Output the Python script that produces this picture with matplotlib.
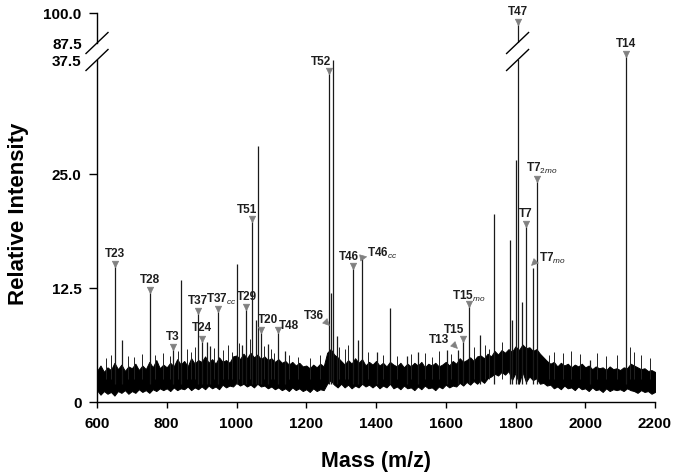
import numpy as np
import matplotlib
matplotlib.use("Agg")
import matplotlib.pyplot as plt
from matplotlib.markers import MarkerStyle
from matplotlib.path import Path
from matplotlib.transforms import ScaledTranslation, Affine2D

plt.rcParams['font.family'] = ['Liberation Sans', 'DejaVu Sans']
plt.rcParams['mathtext.fontset'] = 'custom'
plt.rcParams['mathtext.rm'] = 'Liberation Sans'
plt.rcParams['mathtext.bf'] = 'Liberation Sans:bold'
plt.rcParams['mathtext.it'] = 'Liberation Sans:italic'

# ---------------- data ----------------
# noise band envelope (m/z grid every 10)
noise_mass = list(range(600, 2201, 10))
noise_upper = [3.4, 4.0, 3.3, 3.8, 3.5, 4.3, 3.6, 4.1, 3.4, 3.9,
               3.7, 4.2, 3.5, 4.0, 3.6, 4.4, 3.8, 4.6, 3.7, 4.1,
               3.8, 4.3, 3.9, 4.7, 4.1, 4.5, 3.9, 4.8, 4.2, 4.6,
               4.4, 5.0, 4.3, 4.7, 4.2, 4.9, 4.4, 4.6, 4.3, 5.0,
               5.1, 4.7, 5.3, 4.8, 5.4, 4.9, 5.2, 4.7, 5.0, 4.6,
               4.8, 4.4, 4.7, 4.3, 4.5, 4.1, 4.4, 4.0, 4.3, 3.9,
               4.0, 3.7, 4.1, 3.8, 4.2, 3.9, 5.4, 5.8, 5.2, 4.9,
               4.5, 4.1, 4.6, 4.2, 4.8, 4.3, 4.7, 4.0, 4.4, 4.1,
               4.5, 4.0, 4.3, 3.9, 4.4, 4.1, 3.9, 4.3, 3.8, 4.2,
               3.9, 4.3, 4.0, 4.4, 3.8, 4.2, 4.0, 4.3, 3.9, 4.1,
               4.4, 4.0, 4.5, 4.2, 4.8, 4.4, 4.6, 4.9, 4.5, 5.0,
               5.1, 4.8, 5.3, 5.0, 5.6, 5.2, 5.7, 5.4, 5.8, 5.5,
               6.1, 5.7, 6.3, 5.9, 6.0, 5.6, 5.8, 5.3, 4.9, 4.5,
               4.2, 4.4, 3.9, 4.3, 4.0, 4.2, 3.8, 4.1, 3.9, 4.2,
               3.8, 4.0, 3.6, 3.9, 3.7, 3.8, 3.5, 3.9, 3.6, 3.7,
               3.5, 3.8, 3.7, 4.2, 4.0, 3.8, 3.6, 3.7, 3.4, 3.5,
               3.3]
noise_lower = [1.3, 0.8, 1.2, 0.9, 1.1, 0.7, 1.2, 1.0, 1.3, 0.9,
               1.2, 1.0, 1.4, 1.1, 1.3, 1.0, 1.4, 1.2, 1.5, 1.3,
               1.5, 1.2, 1.6, 1.3, 1.5, 1.4, 1.7, 1.3, 1.6, 1.4,
               1.7, 1.4, 1.8, 1.5, 1.7, 1.4, 1.9, 1.6, 1.8, 1.7,
               2.1, 1.8, 2.0, 1.7, 1.9, 1.6, 2.0, 1.7, 1.8, 1.5,
               1.7, 1.4, 1.6, 1.3, 1.5, 1.2, 1.6, 1.3, 1.5, 1.2,
               1.4, 1.1, 1.5, 1.2, 1.4, 1.3, 2.0, 2.4, 1.9, 1.6,
               2.0, 1.6, 1.9, 1.5, 1.8, 1.6, 2.0, 1.7, 1.9, 1.6,
               1.9, 1.5, 1.8, 1.6, 2.0, 1.5, 1.7, 1.4, 1.8, 1.5,
               1.6, 1.3, 1.7, 1.4, 1.8, 1.5, 1.6, 1.3, 1.7, 1.5,
               1.9, 1.6, 1.8, 1.7, 2.1, 1.8, 2.2, 1.9, 2.3, 2.0,
               2.4, 2.1, 2.6, 2.8, 3.1, 2.9, 3.3, 3.0, 3.4, 2.4,
               3.2, 2.0, 3.3, 2.2, 2.8, 2.4, 2.6, 2.0, 2.1, 1.8,
               1.9, 1.5, 1.7, 1.4, 1.8, 1.5, 1.6, 1.3, 1.7, 1.4,
               1.5, 1.2, 1.6, 1.3, 1.4, 1.1, 1.5, 1.2, 1.4, 1.3,
               1.4, 1.2, 1.5, 1.3, 1.2, 1.0, 1.3, 1.1, 1.2, 0.9,
               1.1]

# small spikes rising out of the noise (m/z, relative intensity)
spike_mass = [625, 640, 688, 705, 730, 765, 790, 808, 832, 858,
              870, 880, 935, 960, 975, 988, 1008, 1040, 1080, 1098,
              1108, 1150, 1175, 1210, 1240, 1295, 1310, 1320, 1378, 1420,
              1460, 1500, 1540, 1560, 1580, 1615, 1680, 1712, 1725, 1760,
              1895, 1910, 1935, 1960, 1985, 2035, 2060, 2090, 2128, 2140,
              2160, 2185]
spike_height = [4.8, 5.2, 5.0, 4.9, 5.3, 5.1, 5.4, 5.0, 5.6, 5.8,
                5.5, 6.0, 5.9, 5.7, 6.3, 5.5, 6.5, 6.9, 6.1, 5.8,
                5.4, 5.2, 4.9, 4.8, 5.1, 6.0, 5.8, 6.2, 5.5, 5.2,
                5.0, 5.3, 5.4, 4.9, 5.6, 5.3, 6.0, 6.3, 5.8, 6.6,
                5.2, 5.5, 5.4, 5.6, 5.3, 5.4, 5.0, 5.2, 6.0, 5.5,
                5.1, 4.8]

# peaks (m/z, relative intensity)
peak_mass = [652, 671, 752, 818, 841, 890, 902, 914, 924, 948,
             1000, 1015, 1028, 1045, 1056, 1062, 1070, 1089, 1120, 1140,
             1266, 1271, 1277, 1287, 1334, 1348, 1360, 1403, 1441, 1488,
             1520, 1603, 1635, 1650, 1667, 1698, 1738, 1784, 1790, 1800,
             1806, 1818, 1829, 1849, 1861, 2014, 2118]
peak_height = [15.2, 6.8, 12.4, 6.1, 13.4, 10.1, 7.0, 6.6, 6.1, 10.3,
               15.1, 6.2, 10.5, 20.2, 9.0, 28.1, 8.0, 6.4, 8.0, 5.6,
               36.4, 12.0, 38.0, 7.2, 15.0, 6.8, 15.9, 5.5, 10.3, 5.0,
               5.5, 5.7, 5.7, 7.0, 10.9, 7.3, 20.6, 17.8, 9.0, 26.5,
               96.5, 11.0, 19.6, 14.7, 24.6, 4.6, 57.0]

# annotations: label, subscript, arrow m/z, arrow intensity, arrow tilt
ann_label = ['T23', 'T28', 'T3', 'T37', 'T24', 'T37', 'T29', 'T51', 'T20', 'T48',
             'T36', 'T52', 'T46', 'T46', 'T13', 'T15', 'T15', 'T47', 'T7', 'T7',
             'T7', 'T14']
ann_sub = ['', '', '', '', '', 'cc', '', '', '', '',
           '', '', '', 'cc', '', '', 'mo', '', '', 'mo',
           '2mo', '']
ann_mass = [652, 752, 818, 890, 902, 948, 1028, 1045, 1070, 1120,
            1256, 1266, 1334, 1360, 1625, 1650, 1667, 1806, 1829, 1853,
            1861, 2118]
ann_height = [15.2, 12.4, 6.1, 10.1, 7.0, 10.3, 10.5, 20.2, 8.0, 8.0,
              8.8, 36.4, 15.0, 15.9, 6.3, 7.0, 10.9, 96.5, 19.6, 15.3,
              24.6, 57.0]
ann_tilt = [0, 0, 0, 0, 0, 0, 0, 0, 0, 0,
            45, 0, 0, 100, 45, 0, 0, 0, 0, -45,
            0, 0]
# text placement: (dx, dy) in pixels from arrow, horizontal alignment
ann_dx = [0, 0, 0, 0, 0, -12, 1, -5, -3, 1,
          -2, -8, -4, 5, -5, -9, -17, 0, 0, 5,
          -11, 0]
ann_dy = [9, 9, 9, 9, 10, 9, 9, 8, 9, 3,
          6, 8, 8, 4, 5, 8, 6, 9, 9, 4,
          9, 9]
ann_ha = ['center', 'center', 'center', 'center', 'center', 'left', 'center', 'center', 'left', 'left',
          'right', 'center', 'center', 'left', 'right', 'center', 'left', 'center', 'center', 'left',
          'left', 'center']

x_ticks = [600, 800, 1000, 1200, 1400, 1600, 1800, 2000, 2200]
y_ticks = [0, 12.5, 25.0, 37.5, 87.5, 100.0]
y_ticklabels = ['0', '12.5', '25.0', '37.5', '87.5', '100.0']

# ---------------- broken y scale ----------------
Y_BRK = np.array([0.0, 37.5, 87.5, 100.0])
U_BRK = np.array([0.0, 342.0, 359.0, 389.0])


def fwd(y):
    y = np.asarray(y, dtype=float)
    out = np.interp(y, Y_BRK, U_BRK)
    out = np.where(y < 0, y * (342.0 / 37.5), out)
    out = np.where(y > 100, 389.0 + (y - 100) * 2.4, out)
    return out


def inv(u):
    u = np.asarray(u, dtype=float)
    out = np.interp(u, U_BRK, Y_BRK)
    out = np.where(u < 0, u / (342.0 / 37.5), out)
    out = np.where(u > 389, 100 + (u - 389) / 2.4, out)
    return out


fig = plt.figure(figsize=(6.75, 4.74), dpi=100)
ax = fig.add_axes([97 / 675, 72 / 474, (655 - 97) / 675, (402 - 13) / 474])
ax.set_yscale('function', functions=(fwd, inv))
ax.set_xlim(600, 2200)
ax.set_ylim(0, 100)

# noise band
ax.fill_between(noise_mass, noise_lower, noise_upper, facecolor='black', lw=0.7,
                edgecolor='black', zorder=2)
ax.vlines(spike_mass, 2.5, spike_height, color='#222222', lw=0.7, zorder=2)

# peaks
ax.vlines(peak_mass, 2.0, peak_height, color='#1a1a1a', lw=0.9, zorder=3)

# gap in T47 line between break marks
ax.vlines([1806], 38.2, 86.8, color='white', lw=3, zorder=4)

# arrowhead marker pointing down
head = Path([(0, -1.0), (-0.75, 0.55), (0.75, 0.55), (0, -1.0)],
            [Path.MOVETO, Path.LINETO, Path.LINETO, Path.CLOSEPOLY])

for lab, sub, m, h, tilt, dx, dy, ha in zip(ann_label, ann_sub, ann_mass, ann_height,
                                             ann_tilt, ann_dx, ann_dy, ann_ha):
    mk = MarkerStyle(head, transform=Affine2D().rotate_deg(tilt))
    ax.plot([m], [h], marker=mk, ms=6, color='#808080',
            mec='#808080', mew=0.5, zorder=6, clip_on=False)
    if sub:
        txt = r'$\mathbf{%s}_{\mathit{%s}}$' % (lab, sub)
    else:
        txt = lab
    ax.annotate(txt, xy=(m, h), xytext=(dx, dy), textcoords='offset pixels',
                ha=ha, va='center', fontsize=8.5, fontweight='bold',
                color='#1e1e1e', zorder=7, annotation_clip=False)

# axes styling
for s in ['top', 'right', 'left']:
    ax.spines[s].set_visible(False)
ax.spines['bottom'].set_linewidth(1.0)
ax.spines['bottom'].set_bounds(600, 2200)

ytr = ax.get_yaxis_transform()
ax.plot([0, 0], [0, 37.5], transform=ytr, color='black', lw=1.0, clip_on=False, zorder=5)
ax.plot([0, 0], [87.5, 100], transform=ytr, color='black', lw=1.0, clip_on=False, zorder=5)

# break slashes
for xb in [600, 1806]:
    for yb in [37.5, 87.5]:
        tr = fig.dpi_scale_trans + ScaledTranslation(xb, yb, ax.transData)
        ax.plot([-0.11, 0.11], [-0.105, 0.105], transform=tr, color='black',
                lw=1.0, clip_on=False, zorder=8)

ax.set_xticks(x_ticks)
ax.set_xticklabels([str(v) for v in x_ticks])
ax.set_yticks(y_ticks)
ax.set_yticklabels(y_ticklabels)
ax.minorticks_off()
ax.tick_params(axis='x', direction='out', length=4, width=1.0, pad=7, labelsize=11)
ax.tick_params(axis='y', direction='out', length=6, width=1.0, pad=5, labelsize=11)
for lab in ax.get_xticklabels() + ax.get_yticklabels():
    lab.set_fontweight('bold')
yt = ax.yaxis.get_major_ticks()
yt[3].tick1line.set_visible(False)
yt[4].tick1line.set_visible(False)

fig.text(376 / 675, 1 - 462 / 474, 'Mass (m/z)', ha='center', va='center',
         fontsize=15.5, fontweight='bold')
fig.text(19 / 675, 1 - 213.5 / 474, 'Relative Intensity', ha='center', va='center',
         rotation=90, fontsize=16, fontweight='bold')

fig.savefig('out.png', dpi=100)
